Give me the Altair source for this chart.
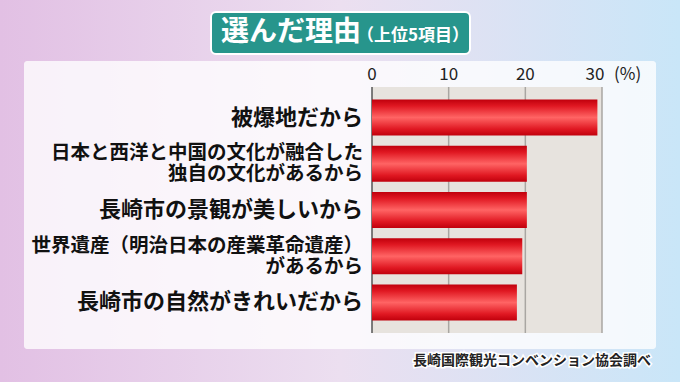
import altair as alt
import pandas as pd

labels = [
    "被爆地だから",
    "日本と西洋と中国の文化が融合した\n独自の文化があるから",
    "長崎市の景観が美しいから",
    "世界遺産（明治日本の産業革命遺産）\nがあるから",
    "長崎市の自然がきれいだから",
]
values = [29.4, 20.2, 20.2, 19.6, 18.9]
ticks = [0, 10, 20, 30]
title_main = "選んだ理由"
title_sub = "（上位5項目）"
unit = "(%)"
source = "長崎国際観光コンベンション協会調べ"

W, H = 230, 246
L, T = 372, 87
FONT = "Noto Sans CJK JP"

df = pd.DataFrame({"label": labels, "v": values})
tdf = pd.DataFrame({"t": ticks})
one = alt.Data(values=[{}])

xscale = alt.Scale(domain=[0, 30], nice=False)
yenc = alt.Y("label:N", sort=labels, scale=alt.Scale(paddingInner=0.22, paddingOuter=0.27), axis=None)

bg = alt.Chart(one).mark_rect(
    color=alt.Gradient(gradient="linear", x1=0, x2=1, y1=0, y2=0,
                       stops=[alt.GradientStop(offset=0, color="#e2c0e4"),
                              alt.GradientStop(offset=0.5, color="#ecdff0"),
                              alt.GradientStop(offset=1, color="#c9e6f8")])
).encode(x=alt.value(-L), x2=alt.value(680 - L), y=alt.value(-T), y2=alt.value(382 - T))

panel = alt.Chart(one).mark_rect(color="white", opacity=0.78, cornerRadius=3).encode(
    x=alt.value(24 - L), x2=alt.value(656 - L), y=alt.value(61 - T), y2=alt.value(349 - T))

tbox = alt.Chart(one).mark_rect(color="#27958c", stroke="white", strokeWidth=2, cornerRadius=5).encode(
    x=alt.value(211 - L), x2=alt.value(470 - L), y=alt.value(12 - T), y2=alt.value(54 - T))

tmain = alt.Chart(one).mark_text(text=title_main, font=FONT, fontWeight="bold", fontSize=28,
                                 color="white", align="left", baseline="middle").encode(
    x=alt.value(221 - L), y=alt.value(33 - T))
tsub = alt.Chart(one).mark_text(text=title_sub, font=FONT, fontWeight="bold", fontSize=17,
                                color="white", align="left", baseline="middle").encode(
    x=alt.value(357 - L), y=alt.value(36 - T))

plotbg = alt.Chart(one).mark_rect(color="#e7e3de").encode(
    x=alt.value(0), x2=alt.value(W), y=alt.value(0), y2=alt.value(H))

grid = alt.Chart(tdf).transform_filter("datum.t > 0").mark_rule(color="#a9a6a2", strokeWidth=1.5).encode(
    x=alt.X("t:Q", scale=xscale, axis=None), y=alt.value(0), y2=alt.value(H))

zero = alt.Chart(tdf).transform_filter("datum.t == 0").mark_rule(color="#555555", strokeWidth=1.5).encode(
    x=alt.X("t:Q", scale=xscale, axis=None), y=alt.value(0), y2=alt.value(H))

ticklabels = alt.Chart(tdf).transform_filter("datum.t < 30").mark_text(
    font=FONT, fontSize=17, color="#222222", align="center", baseline="middle").encode(
    x=alt.X("t:Q", scale=xscale, axis=None), y=alt.value(75 - T), text="t:Q")
ticklast = alt.Chart(tdf).transform_filter("datum.t == 30").mark_text(
    font=FONT, fontSize=17, color="#222222", align="center", baseline="middle", dx=-7).encode(
    x=alt.X("t:Q", scale=xscale, axis=None), y=alt.value(75 - T), text="t:Q")

bars = alt.Chart(df).mark_bar(
    color=alt.Gradient(gradient="linear", x1=0, x2=0, y1=0, y2=1,
                       stops=[alt.GradientStop(offset=0, color="#c0000c"),
                              alt.GradientStop(offset=0.18, color="#e01822"),
                              alt.GradientStop(offset=0.5, color="#ff6464"),
                              alt.GradientStop(offset=0.82, color="#e01822"),
                              alt.GradientStop(offset=1, color="#c0000c")])
).encode(x=alt.X("v:Q", scale=xscale, axis=None), y=yenc)

ylab1 = alt.Chart(df).transform_filter("indexof(datum.label, '\\n') < 0").mark_text(
    font=FONT, fontWeight="bold", fontSize=22, align="right", baseline="middle",
    color="#111111").encode(y=yenc, x=alt.value(-9), text="label:N")

ylab2 = alt.Chart(df).transform_filter("indexof(datum.label, '\\n') >= 0").mark_text(
    font=FONT, fontWeight="bold", fontSize=19.5, align="right", baseline="middle", lineBreak="\n",
    lineHeight=21, dy=-10.5, color="#111111").encode(y=yenc, x=alt.value(-9), text="label:N")

unit_t = alt.Chart(one).mark_text(text=unit, font=FONT, fontSize=17, color="#222222",
                                  align="left", baseline="middle").encode(
    x=alt.value(614 - L), y=alt.value(75 - T))

src_outline = alt.Chart(one).mark_text(text=source, font=FONT, fontWeight="bold", fontSize=14,
                                       stroke="white", strokeWidth=3, color="white",
                                       align="right", baseline="middle").encode(
    x=alt.value(651 - L), y=alt.value(361 - T))
src = alt.Chart(one).mark_text(text=source, font=FONT, fontWeight="bold", fontSize=14,
                               color="#222222", align="right", baseline="middle").encode(
    x=alt.value(651 - L), y=alt.value(361 - T))

chart = alt.layer(bg, panel, tbox, tmain, tsub, plotbg, grid, zero, bars, ticklabels, ticklast,
                  ylab1, ylab2, unit_t, src_outline, src).properties(
    width=W, height=H,
    padding={"left": L, "top": T, "right": 680 - L - W, "bottom": 382 - T - H},
    autosize=alt.AutoSizeParams(type="none"),
).configure_view(stroke=None)

chart.save("out.html", embed_options={"renderer": "svg", "actions": False})
